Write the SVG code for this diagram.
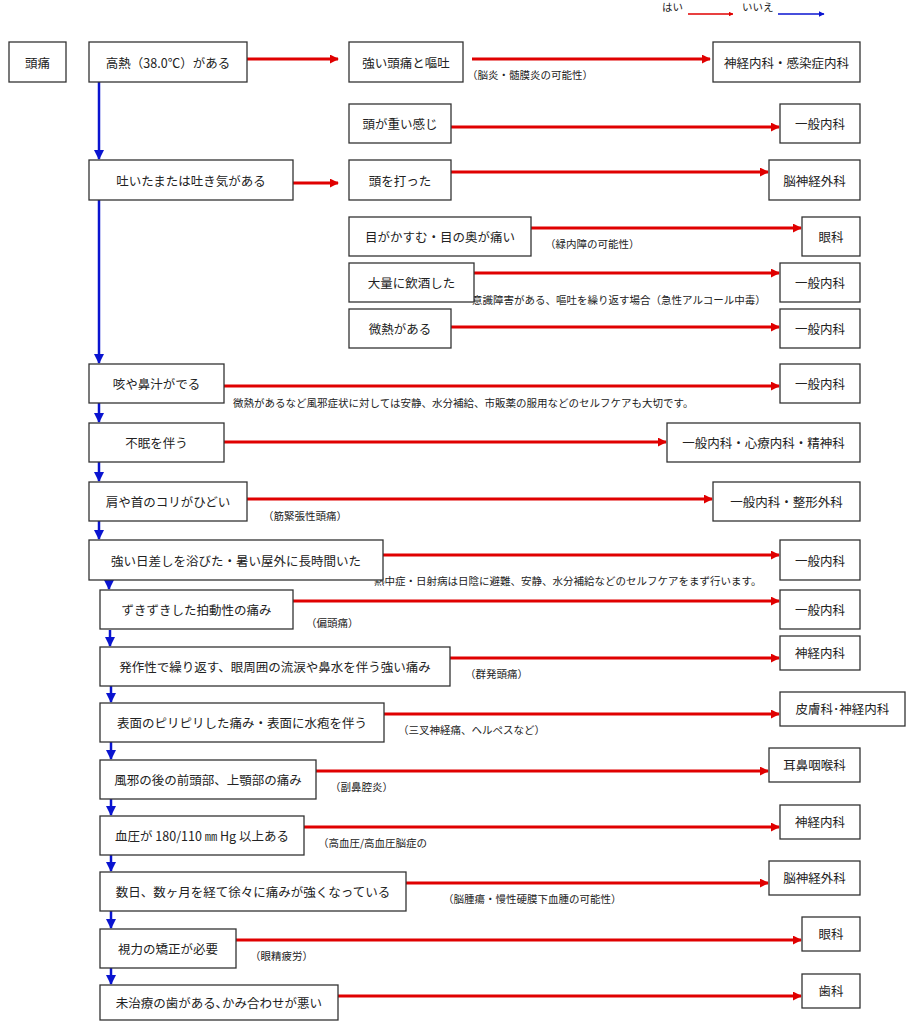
<svg xmlns="http://www.w3.org/2000/svg" width="909" height="1024" viewBox="0 0 909 1024">
<defs>
<marker id="ar" viewBox="0 0 10 10" refX="9" refY="5" markerWidth="3" markerHeight="3" orient="auto"><path d="M0,0 L10,5 L0,10 z" fill="#e00000"/></marker>
<marker id="ab" viewBox="0 0 10 10" refX="9" refY="5" markerWidth="4" markerHeight="4" orient="auto"><path d="M0,0 L10,5 L0,10 z" fill="#0a14d0"/></marker>
<style>
.n rect{fill:#fff;stroke:#333;stroke-width:1.3}
.n text,.t{font-family:"Noto Sans CJK JP","Noto Sans",sans-serif;fill:#222}
.n text{font-size:12.5px;text-anchor:middle;dominant-baseline:central}
.t{font-size:10.5px}
.r{stroke:#e00000;stroke-width:3;fill:none;marker-end:url(#ar)}
.b{stroke:#0a14d0;stroke-width:2.5;fill:none;marker-end:url(#ab)}
</style>
</defs>
<rect width="909" height="1024" fill="#fff"/>
<g id="legend">
<text class="t" x="662" y="11">はい</text>
<line class="r" x1="688" y1="14" x2="733" y2="14" style="stroke-width:1.5"/>
<text class="t" x="742" y="11">いいえ</text>
<line class="b" x1="778" y1="14" x2="824" y2="14" style="stroke-width:1.5"/>
</g>
<g id="connectors">
<line class="r" x1="247" y1="59" x2="338" y2="59"/>
<line class="r" x1="472" y1="59" x2="710" y2="59"/>
<line class="r" x1="451" y1="127" x2="779" y2="127"/>
<line class="r" x1="293" y1="183" x2="338" y2="183"/>
<line class="r" x1="451" y1="172" x2="768" y2="172"/>
<line class="r" x1="531" y1="228" x2="801" y2="228"/>
<line class="r" x1="474" y1="273" x2="779" y2="273"/>
<line class="r" x1="451" y1="327" x2="779" y2="327"/>
<line class="r" x1="224" y1="386" x2="779" y2="386"/>
<line class="r" x1="224" y1="442" x2="666" y2="442"/>
<line class="r" x1="247" y1="499" x2="712" y2="499"/>
<line class="r" x1="383" y1="555" x2="779" y2="555"/>
<line class="r" x1="293" y1="601" x2="779" y2="601"/>
<line class="r" x1="450" y1="658" x2="779" y2="658"/>
<line class="r" x1="384" y1="714" x2="779" y2="714"/>
<line class="r" x1="316" y1="771" x2="768" y2="771"/>
<line class="r" x1="304" y1="827" x2="779" y2="827"/>
<line class="r" x1="406" y1="883" x2="768" y2="883"/>
<line class="r" x1="236" y1="940" x2="801" y2="940"/>
<line class="r" x1="338" y1="996" x2="801" y2="996"/>
<line class="b" x1="99" y1="82" x2="99" y2="159"/>
<line class="b" x1="99" y1="200" x2="99" y2="363"/>
<line class="b" x1="99" y1="403" x2="99" y2="422"/>
<line class="b" x1="99" y1="462" x2="99" y2="481"/>
<line class="b" x1="99" y1="521" x2="99" y2="539"/>
<line class="b" x1="109" y1="580" x2="109" y2="589"/>
<line class="b" x1="110" y1="630" x2="110" y2="646"/>
<line class="b" x1="111" y1="686" x2="111" y2="702"/>
<line class="b" x1="111" y1="742" x2="111" y2="759"/>
<line class="b" x1="111" y1="799" x2="111" y2="815"/>
<line class="b" x1="111" y1="855" x2="111" y2="871"/>
<line class="b" x1="111" y1="911" x2="111" y2="928"/>
<line class="b" x1="111" y1="968" x2="111" y2="984"/>
</g>
<g id="notes">
<text class="t" x="467" y="79">（脳炎・髄膜炎の可能性）</text>
<text class="t" x="545" y="248">（緑内障の可能性）</text>
<text class="t" x="472" y="304">意識障害がある、嘔吐を繰り返す場合（急性アルコール中毒）</text>
<text class="t" x="233" y="407">微熱があるなど風邪症状に対しては安静、水分補給、市販薬の服用などのセルフケアも大切です。</text>
<text class="t" x="263" y="520">（筋緊張性頭痛）</text>
<text class="t" x="374" y="585">熱中症・日射病は日陰に避難、安静、水分補給などのセルフケアをまず行います。</text>
<text class="t" x="306" y="627">（偏頭痛）</text>
<text class="t" x="465" y="678">（群発頭痛）</text>
<text class="t" x="398" y="734">（三叉神経痛、ヘルペスなど）</text>
<text class="t" x="330" y="791">（副鼻腔炎）</text>
<text class="t" x="318" y="847">（高血圧/高血圧脳症の</text>
<text class="t" x="443" y="903">（脳腫瘍・慢性硬膜下血腫の可能性）</text>
<text class="t" x="250" y="960">（眼精疲労）</text>
</g>
<g id="n1" class="n"><rect x="9" y="42" width="57" height="40"/><text x="37.5" y="62">頭痛</text></g>
<g id="n2" class="n"><rect x="89" y="42" width="158" height="40"/><text x="168" y="62">高熱（38.0℃）がある</text></g>
<g id="n3" class="n"><rect x="349" y="42" width="114" height="40"/><text x="406" y="62">強い頭痛と嘔吐</text></g>
<g id="n4" class="n"><rect x="713" y="42" width="147" height="40"/><text x="786.5" y="62">神経内科・感染症内科</text></g>
<g id="n5" class="n"><rect x="349" y="104" width="102" height="39"/><text x="400" y="123">頭が重い感じ</text></g>
<g id="n6" class="n"><rect x="780" y="104" width="80" height="39"/><text x="820" y="123">一般内科</text></g>
<g id="n7" class="n"><rect x="89" y="160" width="204" height="40"/><text x="191" y="180">吐いたまたは吐き気がある</text></g>
<g id="n8" class="n"><rect x="349" y="160" width="102" height="40"/><text x="400" y="180">頭を打った</text></g>
<g id="n9" class="n"><rect x="769" y="160" width="91" height="40"/><text x="814.5" y="180">脳神経外科</text></g>
<g id="n10" class="n"><rect x="349" y="217" width="182" height="39"/><text x="440" y="236">目がかすむ・目の奥が痛い</text></g>
<g id="n11" class="n"><rect x="802" y="217" width="58" height="39"/><text x="831" y="236">眼科</text></g>
<g id="n12" class="n"><rect x="349" y="263" width="125" height="39"/><text x="411.5" y="282">大量に飲酒した</text></g>
<g id="n13" class="n"><rect x="780" y="263" width="80" height="39"/><text x="820" y="282">一般内科</text></g>
<g id="n14" class="n"><rect x="349" y="309" width="102" height="39"/><text x="400" y="328">微熱がある</text></g>
<g id="n15" class="n"><rect x="780" y="309" width="80" height="39"/><text x="820" y="328">一般内科</text></g>
<g id="n16" class="n"><rect x="89" y="364" width="135" height="39"/><text x="156.5" y="383">咳や鼻汁がでる</text></g>
<g id="n17" class="n"><rect x="780" y="364" width="80" height="39"/><text x="820" y="383">一般内科</text></g>
<g id="n18" class="n"><rect x="89" y="423" width="135" height="39"/><text x="156.5" y="442">不眠を伴う</text></g>
<g id="n19" class="n"><rect x="667" y="423" width="193" height="39"/><text x="763.5" y="442">一般内科・心療内科・精神科</text></g>
<g id="n20" class="n"><rect x="89" y="482" width="158" height="39"/><text x="168" y="501">肩や首のコリがひどい</text></g>
<g id="n21" class="n"><rect x="713" y="482" width="147" height="39"/><text x="786.5" y="501">一般内科・整形外科</text></g>
<g id="n22" class="n"><rect x="89" y="540" width="294" height="40"/><text x="236" y="560">強い日差しを浴びた・暑い屋外に長時間いた</text></g>
<g id="n23" class="n"><rect x="780" y="540" width="80" height="40"/><text x="820" y="560">一般内科</text></g>
<g id="n24" class="n"><rect x="100" y="590" width="193" height="39"/><text x="196.5" y="609">ずきずきした拍動性の痛み</text></g>
<g id="n25" class="n"><rect x="780" y="590" width="80" height="39"/><text x="820" y="609">一般内科</text></g>
<g id="n26" class="n"><rect x="100" y="647" width="350" height="39"/><text x="275" y="666">発作性で繰り返す、眼周囲の流涙や鼻水を伴う強い痛み</text></g>
<g id="n27" class="n"><rect x="780" y="636" width="80" height="34"/><text x="820" y="652">神経内科</text></g>
<g id="n28" class="n"><rect x="100" y="703" width="284" height="39"/><text x="242" y="722">表面のピリピリした痛み・表面に水疱を伴う</text></g>
<g id="n29" class="n"><rect x="780" y="692" width="125" height="34"/><text x="842.5" y="708">皮膚科･神経内科</text></g>
<g id="n30" class="n"><rect x="100" y="760" width="216" height="39"/><text x="208" y="779">風邪の後の前頭部、上顎部の痛み</text></g>
<g id="n31" class="n"><rect x="769" y="748" width="91" height="34"/><text x="814.5" y="764">耳鼻咽喉科</text></g>
<g id="n32" class="n"><rect x="100" y="816" width="204" height="39"/><text x="202" y="835">血圧が 180/110 ㎜ Hg 以上ある</text></g>
<g id="n33" class="n"><rect x="780" y="805" width="80" height="34"/><text x="820" y="821">神経内科</text></g>
<g id="n34" class="n"><rect x="100" y="872" width="306" height="39"/><text x="253" y="891">数日、数ヶ月を経て徐々に痛みが強くなっている</text></g>
<g id="n35" class="n"><rect x="769" y="861" width="91" height="34"/><text x="814.5" y="877">脳神経外科</text></g>
<g id="n36" class="n"><rect x="100" y="929" width="136" height="39"/><text x="168" y="948">視力の矯正が必要</text></g>
<g id="n37" class="n"><rect x="802" y="917" width="58" height="34"/><text x="831" y="933">眼科</text></g>
<g id="n38" class="n"><rect x="100" y="985" width="238" height="35"/><text x="219" y="1002">未治療の歯がある､かみ合わせが悪い</text></g>
<g id="n39" class="n"><rect x="802" y="974" width="58" height="34"/><text x="831" y="990">歯科</text></g>
</svg>
